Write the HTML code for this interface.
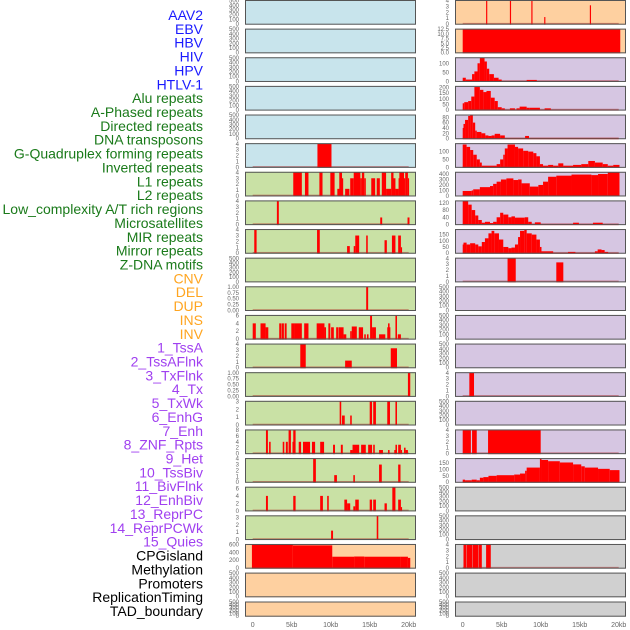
<!DOCTYPE html>
<html><head><meta charset="utf-8"><style>
html,body{margin:0;padding:0;background:#fff;width:630px;height:630px;overflow:hidden}
svg{display:block}
text{font-family:"Liberation Sans",sans-serif}
</style></head><body>
<svg id="fig" width="630" height="630" viewBox="0 0 630 630" xmlns="http://www.w3.org/2000/svg"></svg>
<script>
const labels = ["AAV2","EBV","HBV","HIV","HPV","HTLV-1","Alu repeats","A-Phased repeats","Directed repeats","DNA transposons","G-Quadruplex forming repeats","Inverted repeats","L1 repeats","L2 repeats","Low_complexity A/T rich regions","Microsatellites","MIR repeats","Mirror repeats","Z-DNA motifs","CNV","DEL","DUP","INS","INV","1_TssA","2_TssAFlnk","3_TxFlnk","4_Tx","5_TxWk","6_EnhG","7_Enh","8_ZNF_Rpts","9_Het","10_TssBiv","11_BivFlnk","12_EnhBiv","13_ReprPC","14_ReprPCWk","15_Quies","CPGisland","Methylation","Promoters","ReplicationTiming","TAD_boundary"];
const labelGroups = ["b","b","b","b","b","b","g","g","g","g","g","g","g","g","g","g","g","g","g","o","o","o","o","o","p","p","p","p","p","p","p","p","p","p","p","p","p","p","p","k","k","k","k","k"];
const xTicks = [0,5,10,15,20];
const xTickLabels = ["0","5kb","10kb","15kb","20kb"];
const leftBg = ["blue","blue","blue","blue","blue","blue","green","green","green","green","green","green","green","green","green","green","green","green","green","orange","orange","orange"];
const rightBg = ["orange","orange","purple","purple","purple","purple","purple","purple","purple","purple","purple","purple","purple","purple","purple","purple","purple","grey","grey","grey","grey","grey"];
const E = null;
const leftMax = [E,E,E,E,E,4,4,4,4,E,1,6,4,1,3,8,4,6.3,3.2,600,E,E];
const rightMax = [4,12.5,130,210,88,150,430,130,190,4,E,E,E,4,E,4,185,E,E,4,E,E];
const leftTicks = [E,E,E,E,E,[0,1,2,3,4],[0,1,2,3,4],[0,1,2,3,4],[0,1,2,3,4],E,[0,0.25,0.5,0.75,1],[0,2,4,6],[0,1,2,3,4],[0,0.25,0.5,0.75,1],[0,1,2,3],[0,2,4,6,8],[0,1,2,3,4],[0,2,4,6],[0,1,2,3],[0,200,400,600],E,E];
const rightTicks = [[0,1,2,3,4],[0,2.5,5,7.5,10,12.5],[0,50,100],[0,50,100,150,200],[0,20,40,60,80],[0,50,100],[0,100,200,300,400],[0,40,80,120],[0,50,100,150],[0,1,2,3,4],E,E,E,[0,1,2,3,4],E,[0,1,2,3,4],[0,50,100,150],E,E,[0,1,2,3,4],E,E];
const emptyTicks = [0,100,200,300,400,500];
const leftSegs = [
 [],[],[],[],[],
 [[8.3,10.1,4]],
 [[5.2,6.3,4],[6.7,7.15,4],[8.55,8.95,4],[9.95,10.5,4],[10.85,11.15,1.2],[11.1,11.45,4],[11.45,11.6,3],[11.85,12.4,1.2],[12.5,12.95,3],[12.95,13.8,4],[13.8,14.0,3],[14.0,14.3,4],[14.3,14.5,3],[15.2,15.7,3],[15.9,16.3,3],[16.55,17.1,4],[17.1,17.75,1.2],[17.75,18.05,4],[18.05,18.3,3],[18.3,18.7,1.2],[18.7,18.95,3],[18.8,19.4,4],[19.4,19.55,3],[19.55,19.9,4],[19.9,20.05,3]],
 [[3.1,3.35,4],[16.35,16.6,1.2],[19.85,20.1,1.2]],
 [[0.2,0.5,4],[8.25,8.6,4],[12.1,12.45,1.2],[12.95,13.15,1.2],[13.15,13.65,3],[14.55,14.75,3],[16.9,17.2,2.2],[17.85,18.3,3],[18.65,19.0,3],[19.0,19.15,1]],
 [],
 [[14.55,14.8,1]],
 [[0,0.4,4],[1.0,1.65,4],[1.65,2.0,3],[3.4,3.65,4],[3.7,4.0,4],[4.1,4.35,4],[4.95,5.3,4],[5.3,6.3,4],[6.6,7.15,4],[8.2,9.2,4],[9.2,9.4,3],[9.7,9.95,4],[10.05,10.4,3],[10.7,11.0,3],[11.05,11.65,3],[11.65,12.0,1.2],[12.5,12.7,2],[12.7,13.35,3.2],[13.6,14.15,3],[14.3,14.5,1.2],[14.65,14.85,1.2],[15.05,15.3,6],[15.3,15.8,3],[16.2,17.0,1.2],[17.25,17.65,3],[17.35,17.55,4],[18.3,18.5,6],[18.6,19.0,1.2]],
 [[6.1,6.8,4],[11.85,12.7,1.2],[17.7,18.5,3.3]],
 [[19.9,20.2,1]],
 [[11.15,11.35,3],[11.45,11.8,1.2],[12.5,12.7,1.2],[15.0,15.3,3],[15.45,15.8,3],[17.25,17.6,3],[18.3,18.5,3]],
 [[1.7,1.95,8],[2.1,2.3,4],[3.85,4.05,4],[4.25,4.5,4],[4.6,4.9,8],[5.1,5.25,4],[5.2,5.5,8],[5.9,6.2,4],[6.45,7.35,4],[7.6,8.0,4],[8.65,9.15,4],[10.3,10.55,3],[11.3,11.55,3],[12.5,12.8,1.2],[12.8,13.65,3],[13.9,14.5,3],[14.8,15.3,3],[15.45,15.65,3],[16.2,16.7,1.2],[17.35,17.55,1.2],[18.15,18.35,1.2],[18.3,18.5,3],[18.65,19.0,3],[19.0,19.15,1.2],[19.4,19.6,2],[19.6,19.9,1.2]],
 [[7.75,8.1,4],[10.45,10.8,1.2],[12.9,13.1,1.2],[16.2,16.55,3],[18.65,18.95,3]],
 [[1.7,1.95,4],[5.2,5.5,4],[8.65,9.0,4],[9.55,9.75,4],[11.75,12.1,3],[12.1,12.5,2],[12.9,13.15,1.2],[13.15,13.6,3],[15.0,15.3,3],[15.45,15.8,3],[16.9,17.2,2],[17.9,18.3,6.3],[18.65,19.0,3],[19.0,19.15,1]],
 [[10.05,10.3,1.2],[15.9,16.1,3.2]],
 [[-0.1,5.15,600],[5.15,10.2,580],[10.2,13.0,290],[13.0,14.3,295],[14.3,19.0,290],[19.0,19.9,290],[19.9,20.2,260]],
 [],[]
];
const rightSegs = [
 [[3.0,3.15,4],[6.05,6.2,4],[8.8,8.95,4],[10.45,10.6,1.2],[16.3,16.45,3.2]],
 [[0,20.2,12.5]],
 [[0,0.4,20],[0.4,1.2,10],[1.2,1.5,40],[1.5,1.9,55],[1.9,2.2,100],[2.2,2.8,130],[2.8,3.1,110],[3.1,3.4,70],[3.4,4.0,40],[4.0,4.6,20],[4.6,5.0,10],[5.0,8.2,2],[8.2,9.5,8],[9.5,20,1]],
 [[0,0.2,60],[0.2,0.7,70],[0.7,1.1,80],[1.1,1.5,120],[1.5,2.2,205],[2.2,2.65,180],[2.65,3.05,160],[3.05,3.6,170],[3.6,4.1,110],[4.1,4.5,80],[4.5,5.0,25],[5.0,5.4,15],[5.4,6.05,3],[6.05,6.7,15],[6.7,6.9,3],[6.9,7.3,15],[7.3,8.2,30],[8.2,8.6,20],[8.6,9.9,20],[9.9,10.5,3],[10.5,11.3,15],[11.3,20,3]],
 [[0,0.1,40],[0.1,0.3,55],[0.3,0.7,70],[0.7,0.95,85],[0.95,1.3,90],[1.3,1.6,60],[1.6,1.8,30],[1.8,2.4,25],[2.4,2.9,20],[2.9,3.3,12],[3.3,3.7,10],[3.7,4.1,12],[4.1,4.8,18],[4.8,5.4,12],[5.4,8.0,2],[8.0,8.5,10],[8.5,20,2]],
 [[0,0.5,145],[0.5,0.95,130],[0.95,1.35,110],[1.35,1.8,80],[1.8,2.2,50],[2.2,2.45,30],[2.45,4.35,10],[4.35,4.8,20],[4.8,5.2,50],[5.2,5.4,80],[5.4,5.75,120],[5.75,6.7,145],[6.7,7.1,130],[7.1,7.75,120],[7.75,8.4,105],[8.4,9.05,100],[9.05,9.45,90],[9.45,9.9,70],[9.9,10.3,20],[10.3,10.95,10],[10.95,11.6,15],[11.6,12.25,10],[12.25,12.9,25],[12.9,14.15,10],[14.15,15.2,15],[15.2,16.1,20],[16.1,16.95,40],[16.95,17.95,30],[17.95,18.6,20],[18.6,19.3,10],[19.3,20.1,15]],
 [[0,1.15,90],[1.15,1.35,100],[1.35,2.2,120],[2.2,3.5,160],[3.5,3.9,180],[3.9,4.35,220],[4.35,4.9,260],[4.9,5.6,300],[5.6,6.5,320],[6.5,7.1,290],[7.1,7.55,300],[7.55,8.6,230],[8.6,9.7,170],[9.7,10.3,200],[10.3,10.95,260],[10.95,12.0,350],[12.0,13.95,370],[13.95,16.5,390],[16.5,17.35,380],[17.35,18.6,400],[18.6,20.1,430]],
 [[0,0.7,130],[0.7,1.15,110],[1.15,1.6,80],[1.6,2.0,50],[2.0,2.45,25],[2.45,2.85,10],[2.85,3.5,15],[3.5,3.9,8],[3.9,4.35,15],[4.35,4.8,40],[4.8,5.2,65],[5.2,5.85,55],[5.85,6.25,40],[6.25,6.7,45],[6.7,7.95,38],[7.95,8.4,40],[8.4,8.85,15],[8.85,9.25,3],[9.25,10.0,12],[10.0,14.15,2],[14.15,14.9,10],[14.9,16.7,2],[16.7,17.95,10],[17.95,20,2]],
 [[0,0.1,70],[0.1,0.5,85],[0.5,0.95,70],[0.95,1.6,80],[1.6,2.0,70],[2.0,2.45,55],[2.45,2.85,90],[2.85,3.3,120],[3.3,3.7,160],[3.7,4.05,180],[4.05,4.65,160],[4.65,5.2,110],[5.2,5.85,50],[5.85,6.25,40],[6.25,6.7,45],[6.7,7.1,70],[7.1,7.35,130],[7.35,7.9,180],[7.9,8.2,190],[8.2,8.85,160],[8.85,9.45,150],[9.45,9.9,110],[9.9,10.1,50],[10.1,11.6,15],[11.6,13.5,2],[13.5,14.45,10],[14.45,16.95,2],[16.95,17.3,15],[17.3,17.8,30],[17.8,18.2,25],[18.2,18.65,10],[18.65,20,2]],
 [[5.75,6.8,4],[12.0,12.9,3.3]],
 [],[],[],
 [[0.85,1.45,4]],
 [],
 [[0,1.05,4],[1.2,1.8,4],[3.25,10.0,4]],
 [[0,0.3,20],[0.3,1.15,15],[1.15,1.8,20],[1.8,2.2,15],[2.2,2.65,35],[2.65,3.3,40],[3.3,4.35,50],[4.35,6.6,55],[6.6,7.35,60],[7.35,8.0,68],[8.0,8.2,90],[8.2,9.9,115],[9.9,10.1,185],[10.1,10.95,175],[10.95,12.45,165],[12.45,14.15,155],[14.15,15.2,140],[15.2,15.65,125],[15.65,17.35,115],[17.35,18.85,105],[18.85,20.1,95]],
 [],[],
 [[0.1,0.5,4],[0.55,1.2,4],[1.25,2.0,4],[2.05,2.45,4],[3.0,3.6,4]],
 [],[]
];

const NS = "http://www.w3.org/2000/svg";
const svg = document.getElementById("fig");
function mk(tag, attrs, parent){ const e=document.createElementNS(NS,tag); for(const k in attrs) e.setAttribute(k,attrs[k]); (parent||svg).appendChild(e); return e; }

const bgColors = {blue:"#c8e4ec",green:"#c9e1a5",orange:"#fed0a0",purple:"#d6c6e2",grey:"#d0d0d0"};
const labelColors = {b:"#1a1aff",g:"#1a7a1a",o:"#ffa520",p:"#a040f0",k:"#000000"};

labels.forEach((t,i)=>{
  const el = mk("text",{x:203,y:20+i*13.86,"text-anchor":"end","font-size":"14",fill:labelColors[labelGroups[i]]});
  el.textContent = t;
  
  
});

const cols = [{x0:245,x1:416,zero:252.7,bgs:leftBg,max:leftMax,ticks:leftTicks,segs:leftSegs,name:"left"},
              {x0:455,x1:626,zero:462.7,bgs:rightBg,max:rightMax,ticks:rightTicks,segs:rightSegs,name:"right"}];
const kbPx = 7.8;
function fmt(v, ticks){
  const dec = ticks.some(t=>t%1!==0);
  if(!dec) return String(v);
  const two = ticks.some(t=>(t*10)%1!==0);
  return two ? v.toFixed(2) : v.toFixed(1);
}
cols.forEach(c=>{
  const xs = kb => c.zero + kb*kbPx;
  for(let r=0;r<22;r++){
    const top = r<21 ? r*28.63 : 601.5;
    const h = r<21 ? 24.7 : 15.2;
    const g = mk("g",{});
    
    
    const bg = mk("rect",{x:c.x0,y:top,width:c.x1-c.x0,height:h,fill:bgColors[c.bgs[r]]},g);
    
    
    const ymax = c.max[r];
    const ticks = c.ticks[r] || emptyTicks;
    const yM = ymax===null ? 500 : ymax;
    const ys = v => top + h - 0.6 - (v/yM)*(h-1.2);
    const segs = c.segs[r];
    if(segs.length){
      const base = mk("rect",{x:xs(0),y:top+h-1.8,width:xs(20)-xs(0),height:1.3,fill:"rgba(170,20,20,0.45)"},g);
      
      
    }
    segs.forEach(s=>{
      const x1 = xs(s[0]), x2 = xs(s[1]);
      const yv = Math.max(top, ys(s[2]));
      const b = mk("rect",{x:x1,y:yv,width:Math.max(0.8,x2-x1),height:top+h-yv,fill:"#ff0000"},g);
      
      
    });
    mk("rect",{x:c.x0+0.5,y:top+0.5,width:c.x1-c.x0-1,height:h-1,fill:"none",stroke:"#555","stroke-width":1},g);
    ticks.forEach(t=>{
      const ty = ys(t);
      const tl = mk("text",{x:c.x0-6,y:ty+2,"text-anchor":"end","font-size":"6",fill:"#666"},g);
      tl.textContent = fmt(t,ticks);
      
      
    });
  }
  xTicks.forEach((t,i)=>{
    const tl = mk("text",{x:xs(t),y:627,"text-anchor":"middle","font-size":"7",fill:"#666"});
    tl.textContent = xTickLabels[i];
    
    
  });
});
</script>
</body></html>
